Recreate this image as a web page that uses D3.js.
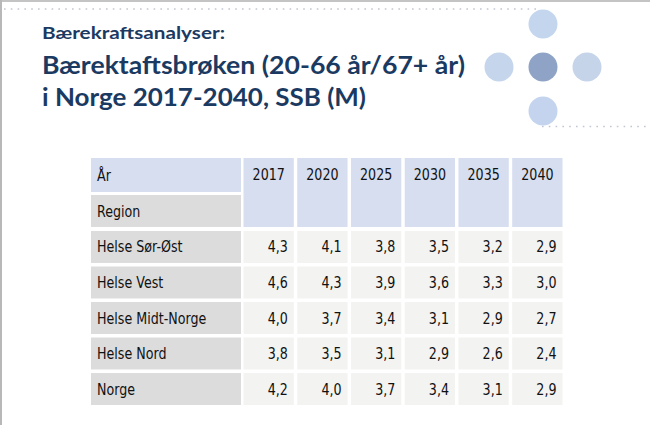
<!DOCTYPE html>
<html>
<head>
<meta charset="utf-8">
<script src="https://cdn.jsdelivr.net/npm/d3@7"></script>
<style>
html,body{margin:0;padding:0;background:#fff;}
svg{display:block;}
</style>
</head>
<body>
<svg id="chart" width="650" height="425"></svg>
<script>
// ---- data ----
const years = ["2017", "2020", "2025", "2030", "2035", "2040"];
const regions = ["Helse Sør-Øst", "Helse Vest", "Helse Midt-Norge", "Helse Nord", "Norge"];
const helseSorOst = [4.3, 4.1, 3.8, 3.5, 3.2, 2.9];
const helseVest = [4.6, 4.3, 3.9, 3.6, 3.3, 3.0];
const helseMidtNorge = [4.0, 3.7, 3.4, 3.1, 2.9, 2.7];
const helseNord = [3.8, 3.5, 3.1, 2.9, 2.6, 2.4];
const norge = [4.2, 4.0, 3.7, 3.4, 3.1, 2.9];
const headerLabels = ["År", "Region"];
const kicker = "Bærekraftsanalyser:";
const titleLines = ["Bærektaftsbrøken (20-66 år/67+ år)", "i Norge 2017-2040, SSB (M)"];

const seriesValues = [helseSorOst, helseVest, helseMidtNorge, helseNord, norge];

const svg = d3.select("#chart");
const fmt = d3.formatLocale({decimal: ",", thousands: " ", grouping: [3], currency: ["", " kr"]}).format(".1f");

// ---- frame ----
svg.append("rect").attr("x", 0).attr("y", 0).attr("width", 650).attr("height", 2).attr("fill", "#c4c4c4");
svg.append("rect").attr("x", 0).attr("y", 0).attr("width", 2).attr("height", 425).attr("fill", "#b8b8b8");
svg.append("line").attr("x1", 4).attr("x2", 540).attr("y1", 9).attr("y2", 9)
  .attr("stroke", "#c2c5d2").attr("stroke-width", 1.6).attr("stroke-dasharray", "1.6 5.2");
svg.append("line").attr("x1", 542).attr("x2", 650).attr("y1", 126.5).attr("y2", 126.5)
  .attr("stroke", "#c2c5d2").attr("stroke-width", 1.6).attr("stroke-dasharray", "1.6 5.2");

// decorative circles
const circ = [
  {cx: 543, cy: 24, fill: "#c4d5ee"},
  {cx: 499, cy: 67, fill: "#c5d5ec"},
  {cx: 543, cy: 67, fill: "#8ea3c5"},
  {cx: 587, cy: 67, fill: "#c6d4e9"},
  {cx: 543, cy: 111, fill: "#c4d4ef"}
];
svg.selectAll("circle.deco").data(circ).join("circle").attr("class", "deco")
  .attr("cx", d => d.cx).attr("cy", d => d.cy).attr("r", 14.5).attr("fill", d => d.fill);

// ---- titles ----
const titleColor = "#1b3a62";
svg.append("text").attr("x", 42).attr("y", 38.5)
  .attr("font-family", "Lato, 'Open Sans', sans-serif").attr("font-weight", 700)
  .attr("font-size", 17).attr("fill", titleColor)
  .attr("textLength", 183).attr("lengthAdjust", "spacingAndGlyphs").text(kicker);
const titleW = [423, 324];
titleLines.forEach((t, i) => {
  svg.append("text").attr("x", 42).attr("y", 73.5 + i * 32)
    .attr("font-family", "Lato, 'Open Sans', sans-serif").attr("font-weight", 700)
    .attr("font-size", 24.5).attr("fill", titleColor)
    .attr("textLength", titleW[i]).attr("lengthAdjust", "spacingAndGlyphs").text(t);
});

// ---- table ----
const x = d3.scaleBand().domain(years).range([243.5, 562.5]).paddingInner(0.064).paddingOuter(0);
const y = d3.scaleBand().domain(regions).range([231, 405]).paddingInner(0.1).paddingOuter(0);
const labelX0 = 91, labelX1 = 241;
const head1 = [158, 192], head2 = [195, 227];

const blue = "#d6def0", gray = "#dcdcdc", light = "#f3f3f1", txt = "#111111";
const sx = 0.845;
const font = "'DejaVu Sans', Verdana, sans-serif";

function label(g, str, px, py, anchor) {
  g.append("text").attr("transform", `translate(${px},${py}) scale(${sx},1)`)
    .attr("text-anchor", anchor).attr("font-family", font).attr("font-size", 15)
    .attr("fill", txt).text(str);
}

const tbl = svg.append("g");
// header label cells
tbl.append("rect").attr("x", labelX0).attr("y", head1[0]).attr("width", labelX1 - labelX0).attr("height", head1[1] - head1[0]).attr("fill", blue);
tbl.append("rect").attr("x", labelX0).attr("y", head2[0]).attr("width", labelX1 - labelX0).attr("height", head2[1] - head2[0]).attr("fill", gray);
label(tbl, headerLabels[0], 97, (head1[0] + head1[1]) / 2 + 5.5, "start");
label(tbl, headerLabels[1], 97, (head2[0] + head2[1]) / 2 + 5.5, "start");

// year header cells
const yh = tbl.selectAll("g.yh").data(years).join("g").attr("class", "yh");
yh.append("rect").attr("x", d => x(d)).attr("y", head1[0]).attr("width", x.bandwidth()).attr("height", head2[1] - head1[0]).attr("fill", blue);
yh.each(function(d) { label(d3.select(this), d, x(d) + x.bandwidth() - 9, head1[0] + 22, "end"); });

// rows
const rows = tbl.selectAll("g.row").data(regions.map((r, i) => ({r, vals: seriesValues[i]}))).join("g").attr("class", "row");
rows.append("rect").attr("x", labelX0).attr("y", d => y(d.r)).attr("width", labelX1 - labelX0).attr("height", y.bandwidth()).attr("fill", gray);
rows.each(function(d) {
  const g = d3.select(this);
  label(g, d.r, 97, y(d.r) + y.bandwidth() / 2 + 5.5, "start");
  d.vals.forEach((v, j) => {
    g.append("rect").attr("x", x(years[j])).attr("y", y(d.r)).attr("width", x.bandwidth()).attr("height", y.bandwidth()).attr("fill", light);
    label(g, fmt(v), x(years[j]) + x.bandwidth() - 6, y(d.r) + y.bandwidth() / 2 + 5.5, "end");
  });
});
</script>
</body>
</html>
